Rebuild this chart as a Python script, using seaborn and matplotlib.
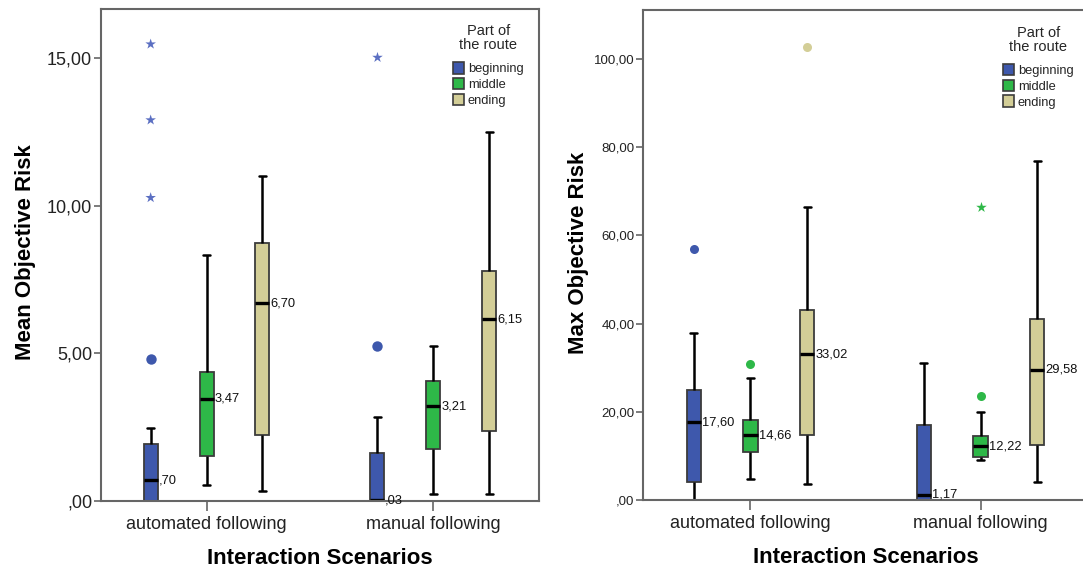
import numpy as np
import pandas as pd
import matplotlib
matplotlib.use("Agg")
import matplotlib.pyplot as plt
import seaborn as sns
from matplotlib.patches import Patch

# ---------------- data ----------------
scenarios = ["automated following", "manual following"]
parts = ["beginning", "middle", "ending"]

# five-number summaries: [lower whisker, Q1, median, Q3, upper whisker]
mean_auto_begin = [0.00, 0.00, 0.70, 1.93, 2.47]
mean_auto_mid = [0.54, 1.52, 3.47, 4.36, 8.34]
mean_auto_end = [0.34, 2.23, 6.70, 8.75, 11.00]
mean_man_begin = [0.00, 0.00, 0.03, 1.62, 2.84]
mean_man_mid = [0.24, 1.76, 3.21, 4.05, 5.24]
mean_man_end = [0.24, 2.36, 6.15, 7.80, 12.50]

max_auto_begin = [0.00, 4.00, 17.60, 24.95, 37.90]
max_auto_mid = [4.85, 10.85, 14.66, 18.10, 27.75]
max_auto_end = [3.55, 14.70, 33.02, 43.00, 66.40]
max_man_begin = [0.00, 0.00, 1.17, 16.90, 31.10]
max_man_mid = [9.07, 9.75, 12.22, 14.60, 19.90]
max_man_end = [4.00, 12.50, 29.58, 41.00, 76.90]

# outliers (circles = moderate, stars = extreme)
mean_circle_scen = ["automated following", "manual following"]
mean_circle_part = ["beginning", "beginning"]
mean_circle_val = [4.80, 5.24]
mean_star_scen = ["automated following"] * 3 + ["manual following"]
mean_star_part = ["beginning"] * 4
mean_star_val = [15.47, 12.90, 10.27, 15.03]

max_circle_scen = ["automated following", "automated following", "automated following", "manual following"]
max_circle_part = ["beginning", "middle", "ending", "middle"]
max_circle_val = [56.8, 30.8, 102.7, 23.5]
max_star_scen = ["manual following"]
max_star_part = ["middle"]
max_star_val = [66.5]

mean_ticks = [0, 5, 10, 15]
max_ticks = [0, 20, 40, 60, 80, 100]

# ---------------- styling ----------------
box_colors = {"beginning": "#3E58AC", "middle": "#2EB848", "ending": "#D3CE97"}
star_colors = {"beginning": "#5B6FC2", "middle": "#2EB848", "ending": "#D3CE97"}
EDGE = "#3c3c3c"
SPINE = "#666666"
BOX_W = 0.74
GAP = 0.748

sns.set_style("white")
plt.rcParams["font.family"] = ["Liberation Sans", "DejaVu Sans"]


def long_frame(groups):
    rows = []
    for sc, pt, vals in groups:
        for v in vals:
            rows.append({"scenario": sc, "part": pt, "value": v})
    return pd.DataFrame(rows)


def spss(v):
    s = f"{v:.2f}".replace(".", ",")
    return s[1:] if s.startswith("0,") else s


def strip(ax, df, marker, size, palette):
    n0 = len(ax.collections)
    sns.stripplot(data=df, x="scenario", y="value", hue="part", order=scenarios,
                  hue_order=parts, palette=palette, dodge=True, jitter=False,
                  marker=marker, size=size, linewidth=0, ax=ax, legend=False,
                  zorder=5)
    # rescale dodge offsets from width .8 to the box width used
    for coll in ax.collections[n0:]:
        off = coll.get_offsets()
        if len(off):
            off = np.asarray(off, dtype=float)
            c = np.round(off[:, 0])
            off[:, 0] = c + (off[:, 0] - c) * BOX_W / 0.8
            coll.set_offsets(off)


def draw(ax, box_df, circ_df, star_df, ticks, ylim, ylabel, circ_size, star_size,
         tick_fs, legend_anchor, ylabel_x):
    sns.boxplot(data=box_df, x="scenario", y="value", hue="part", order=scenarios,
                hue_order=parts, palette=box_colors, saturation=1, width=BOX_W, gap=GAP,
                whis=(0, 100), showfliers=False, linecolor=EDGE, linewidth=1.3,
                legend=False, ax=ax,
                medianprops=dict(color="black", linewidth=2.4),
                whiskerprops=dict(color="black", linewidth=1.8),
                capprops=dict(color="black", linewidth=1.8))
    strip(ax, circ_df, "o", circ_size, box_colors)
    strip(ax, star_df, "*", star_size, star_colors)

    # median value labels
    med = box_df.groupby(["scenario", "part"])["value"].median()
    slot = BOX_W / len(parts)
    half = slot * (1 - GAP) / 2
    for i, sc in enumerate(scenarios):
        for j, pt in enumerate(parts):
            m = med.loc[(sc, pt)]
            ax.text(i + (j - 1) * slot + half + 0.004, m, spss(m), ha="left",
                    va="center", fontsize=9.3, color="#111111", zorder=6)

    ax.set_xlim(-0.468, 1.467)
    ax.set_ylim(*ylim)
    ax.set_yticks(ticks)
    ax.set_yticklabels([spss(t) for t in ticks], fontsize=tick_fs, color="#222222")
    ax.set_xticks(range(len(scenarios)))
    ax.set_xticklabels(scenarios, fontsize=13, color="#222222")
    ax.tick_params(axis="y", length=5, width=1.2, color=SPINE, pad=1, left=True)
    ax.tick_params(axis="x", length=7, width=1.2, color=SPINE, pad=4, bottom=True)
    for s in ax.spines.values():
        s.set_visible(True)
        s.set_color(SPINE)
        s.set_linewidth(1.5)
    ax.set_ylabel(ylabel, fontsize=16, fontweight="bold", color="black")
    ax.yaxis.set_label_coords(ylabel_x, 0.505)
    ax.set_xlabel("Interaction Scenarios", fontsize=16, fontweight="bold", color="black")
    ax.xaxis.set_label_coords(0.5, -0.095)

    handles = [Patch(facecolor=box_colors[p], edgecolor=EDGE, linewidth=1.2, label=p)
               for p in parts]
    leg = ax.legend(handles=handles, title="Part of\nthe route", loc="upper left",
                    bbox_to_anchor=legend_anchor, frameon=False, fontsize=9.3,
                    title_fontsize=10.5, handlelength=0.85, handleheight=1.0,
                    handletextpad=0.3, labelspacing=0.2, borderpad=0,
                    borderaxespad=0)
    leg.get_title().set_multialignment("center")
    leg.get_title().set_linespacing(1.0)
    leg._legend_box.sep = 7


mean_box = long_frame([
    ("automated following", "beginning", mean_auto_begin),
    ("automated following", "middle", mean_auto_mid),
    ("automated following", "ending", mean_auto_end),
    ("manual following", "beginning", mean_man_begin),
    ("manual following", "middle", mean_man_mid),
    ("manual following", "ending", mean_man_end),
])
max_box = long_frame([
    ("automated following", "beginning", max_auto_begin),
    ("automated following", "middle", max_auto_mid),
    ("automated following", "ending", max_auto_end),
    ("manual following", "beginning", max_man_begin),
    ("manual following", "middle", max_man_mid),
    ("manual following", "ending", max_man_end),
])
mean_circ = pd.DataFrame({"scenario": mean_circle_scen, "part": mean_circle_part, "value": mean_circle_val})
mean_star = pd.DataFrame({"scenario": mean_star_scen, "part": mean_star_part, "value": mean_star_val})
max_circ = pd.DataFrame({"scenario": max_circle_scen, "part": max_circle_part, "value": max_circle_val})
max_star = pd.DataFrame({"scenario": max_star_scen, "part": max_star_part, "value": max_star_val})

fig = plt.figure(figsize=(10.83, 5.71), dpi=100)
fig.patch.set_facecolor("white")
ax1 = fig.add_axes([100.5 / 1083, 1 - 501 / 571, 438.5 / 1083, 492 / 571])
ax2 = fig.add_axes([642.8 / 1083, 1 - 500 / 571, 445.2 / 1083, 490 / 571])

draw(ax1, mean_box, mean_circ, mean_star, mean_ticks, (0, 16.66), "Mean Objective Risk",
     7.5, 8, 13, (0.804, 0.969), -0.148)
draw(ax2, max_box, max_circ, max_star, max_ticks, (0, 111.1), "Max Objective Risk",
     6.5, 8, 9.5, (0.809, 0.967), -0.12)

fig.savefig("out.png", dpi=100)
